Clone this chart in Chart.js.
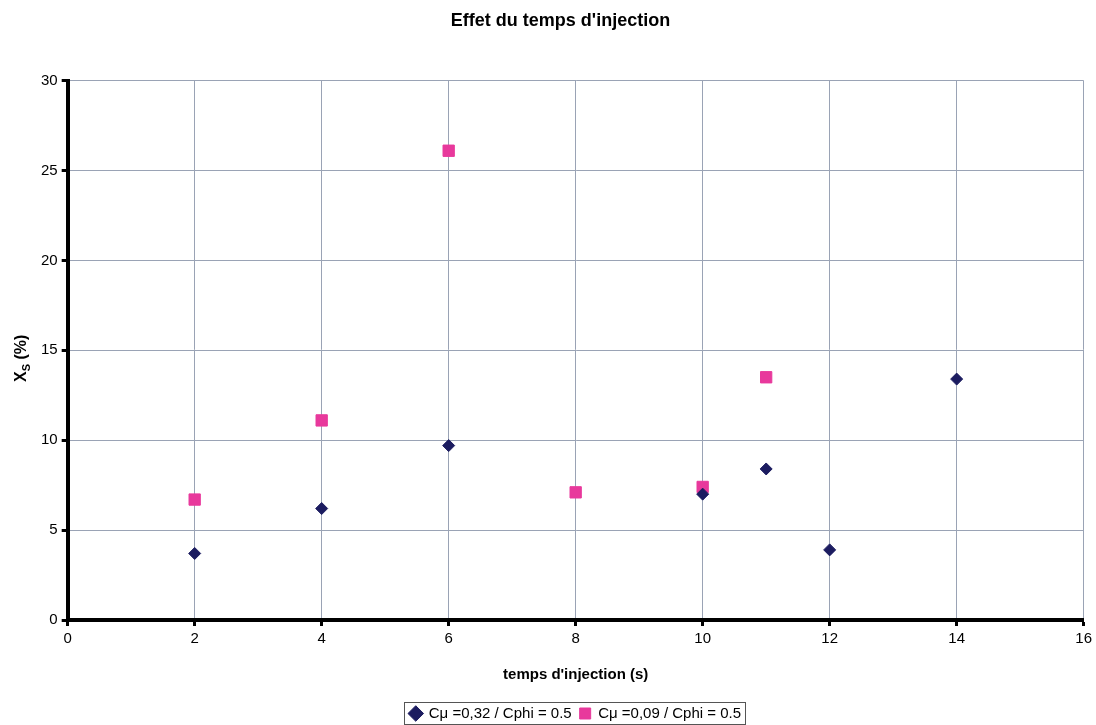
<!DOCTYPE html>
<html>
<head>
<meta charset="utf-8">
<script src="https://cdn.jsdelivr.net/npm/chart.js@4/dist/chart.umd.min.js"></script>
<style>
  html, body { margin: 0; padding: 0; background: #fff; }
  #wrap { width: 1096px; height: 725px; }
</style>
</head>
<body>
<div id="wrap"><canvas id="myChart" width="1096" height="725"></canvas></div>
<script>
// data
var tempsA = [2, 4, 6, 10, 11, 12, 14];
var xsA = [3.7, 6.2, 9.7, 7.0, 8.4, 3.9, 13.4];
var tempsB = [2, 4, 6, 8, 10, 11];
var xsB = [6.7, 11.1, 26.1, 7.1, 7.4, 13.5];
var labelA = 'Cμ =0,32 / Cphi = 0.5';
var labelB = 'Cμ =0,09 / Cphi = 0.5';

function toPoints(xs, ys) {
    var pts = [];
    for (var i = 0; i < xs.length; i++) {
        pts.push({ x: xs[i], y: ys[i] });
    }
    return pts;
}

var fontName = "'Liberation Sans', Arial, sans-serif";

// y axis title with subscript S
var yTitlePlugin = {
    id: 'yTitle',
    afterDraw: function (chart) {
        var ctx = chart.ctx;
        var area = chart.chartArea;
        var cy = (area.top + area.bottom) / 2 + 8;
        ctx.save();
        ctx.translate(20, cy);
        ctx.rotate(-Math.PI / 2);
        ctx.fillStyle = '#000';
        ctx.textBaseline = 'alphabetic';
        ctx.font = 'bold 16px ' + fontName;
        var w1 = ctx.measureText('X').width;
        ctx.font = 'bold 11px ' + fontName;
        var w2 = ctx.measureText('S').width;
        ctx.font = 'bold 16px ' + fontName;
        var w3 = ctx.measureText(' (%)').width;
        var x0 = -(w1 + w2 + w3) / 2;
        ctx.fillText('X', x0, 6);
        ctx.font = 'bold 11px ' + fontName;
        ctx.fillText('S', x0 + w1, 10);
        ctx.font = 'bold 16px ' + fontName;
        ctx.fillText(' (%)', x0 + w1 + w2, 6);
        ctx.restore();
    }
};

// center the legend under the plot area and frame it
var legendBoxPlugin = {
    id: 'legendBox',
    afterUpdate: function (chart) {
        var lg = chart.legend;
        if (!lg) return;
        var area = chart.chartArea;
        var dx = (area.left + area.right) / 2 - (lg.left + lg.right) / 2;
        lg.left += dx;
        lg.right += dx;
        if (lg.legendHitBoxes) {
            for (var i = 0; i < lg.legendHitBoxes.length; i++) {
                lg.legendHitBoxes[i].left += dx;
            }
        }
    },
    afterDraw: function (chart) {
        var lg = chart.legend;
        if (!lg || !lg.legendHitBoxes || !lg.legendHitBoxes.length) return;
        var boxes = lg.legendHitBoxes;
        var left = Infinity, right = -Infinity, top = Infinity, bottom = -Infinity;
        for (var i = 0; i < boxes.length; i++) {
            left = Math.min(left, boxes[i].left);
            right = Math.max(right, boxes[i].left + boxes[i].width);
            top = Math.min(top, boxes[i].top);
            bottom = Math.max(bottom, boxes[i].top + boxes[i].height);
        }
        var ctx = chart.ctx;
        ctx.save();
        ctx.strokeStyle = '#555';
        ctx.lineWidth = 1;
        ctx.strokeRect(Math.round(left - 6) + 0.5, Math.round(top - 4) + 0.5,
            Math.round(right - left + 10), Math.round(bottom - top + 7));
        ctx.restore();
    }
};

document.addEventListener('DOMContentLoaded', function () {
    var ctx = document.getElementById('myChart').getContext('2d');
    new Chart(ctx, {
        type: 'scatter',
        data: {
            datasets: [{
                label: labelA,
                data: toPoints(tempsA, xsA),
                pointStyle: 'rectRot',
                pointRadius: 6,
                pointHoverRadius: 6,
                backgroundColor: '#1c1c60',
                borderColor: '#1c1c60',
                borderWidth: 1
            }, {
                label: labelB,
                data: toPoints(tempsB, xsB),
                pointStyle: 'rect',
                pointRadius: 8,
                pointHoverRadius: 8,
                backgroundColor: '#e8399c',
                borderColor: '#e8399c',
                borderWidth: 1
            }]
        },
        options: {
            responsive: false,
            animation: false,
            maintainAspectRatio: false,
            layout: { padding: { left: 37, right: 12, top: 8, bottom: -6 } },
            plugins: {
                title: {
                    display: true,
                    text: "Effet du temps d'injection",
                    color: '#000',
                    font: { family: fontName, size: 18, weight: 'bold' },
                    padding: { top: 2, bottom: 49 }
                },
                legend: {
                    position: 'bottom',
                    labels: {
                        usePointStyle: true,
                        boxWidth: 11,
                        boxHeight: 11,
                        padding: 8,
                        color: '#000',
                        font: { family: fontName, size: 15 }
                    }
                },
                tooltip: { enabled: false }
            },
            scales: {
                x: {
                    type: 'linear',
                    min: 0,
                    max: 16,
                    ticks: { stepSize: 2, color: '#000', font: { family: fontName, size: 15 }, padding: 4 },
                    grid: { color: '#9aa3b5', lineWidth: 1, tickColor: '#000', tickLength: 6, tickWidth: 3 },
                    border: { color: '#000', width: 4 },
                    title: {
                        display: true,
                        text: "temps d'injection (s)",
                        color: '#000',
                        font: { family: fontName, size: 15, weight: 'bold' },
                        padding: { top: 14, bottom: 14 }
                    }
                },
                y: {
                    min: 0,
                    max: 30,
                    ticks: { stepSize: 5, color: '#000', font: { family: fontName, size: 15 }, padding: 4 },
                    grid: { color: '#9aa3b5', lineWidth: 1, tickColor: '#000', tickLength: 6, tickWidth: 3 },
                    border: { color: '#000', width: 4 }
                }
            }
        },
        plugins: [yTitlePlugin, legendBoxPlugin]
    });
});
</script>
</body>
</html>
